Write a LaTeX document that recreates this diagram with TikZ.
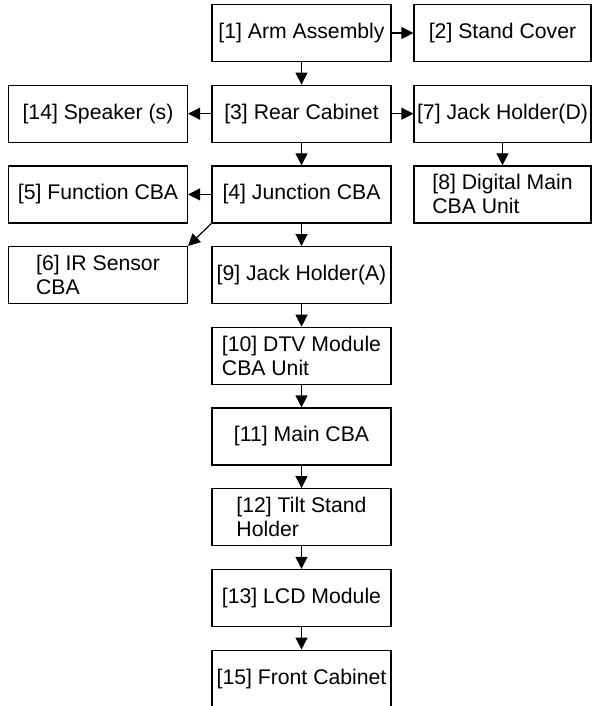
\documentclass[tikz,border=0pt]{standalone}
\usepackage{fontspec}
\setmainfont{Liberation Sans}
\usetikzlibrary{arrows.meta}

\begin{document}
\begin{tikzpicture}[x=0.5pt,y=-0.5pt,
    part/.style={draw,line width=0.6pt,inner sep=0pt,minimum width=89.5pt,
        minimum height=28.5pt,align=left,font=\fontsize{10.6}{12}\selectfont},
    link/.style={line width=0.6pt,-{Triangle[length=6pt,width=6pt]}}]

    \clip (0,0) rectangle (592,706);

    % main column
    \node[part] (arm)      at (301.5,33)    {[1] Arm Assembly};
    \node[part] (rear)     at (301.5,113.7) {[3] Rear Cabinet};
    \node[part] (junction) at (301.5,194.4) {[4] Junction CBA};
    \node[part] (jacka)    at (301.5,275.1) {[9] Jack Holder(A)};
    \node[part] (dtv)      at (301.5,355.8) {[10] DTV Module\\CBA Unit};
    \node[part] (maincba)  at (301.5,436.5) {[11] Main CBA};
    \node[part] (tilt)     at (301.5,517.2) {[12] Tilt Stand\\Holder};
    \node[part] (lcd)      at (301.5,597.9) {[13] LCD Module};
    \node[part] (front)    at (301.5,678.6) {[15] Front Cabinet};

    % left column
    \node[part] (speaker)  at (98,113.7)  {[14] Speaker (s)};
    \node[part] (function) at (98,194.4)  {[5] Function CBA};
    \node[part] (irsensor) at (98,275.1)  {[6] IR Sensor\\CBA};

    % right column
    \node[part,minimum width=88.5pt] (stand)  at (502.5,33)    {[2] Stand Cover};
    \node[part,minimum width=88.5pt] (jackd)  at (502.5,113.7) {[7] Jack Holder(D)};
    \node[part,minimum width=88.5pt] (digital) at (502.5,194.4) {[8] Digital Main\\CBA Unit};

    \foreach \a/\b in {arm/rear,rear/junction,junction/jacka,jacka/dtv,dtv/maincba,
        maincba/tilt,tilt/lcd,lcd/front,arm/stand,rear/jackd,jackd/digital,
        rear/speaker,junction/function}
    {
        \draw[link] (\a) -- (\b);
    }
    \draw[link] (junction.south west) -- (irsensor.north east);
\end{tikzpicture}
\end{document}
